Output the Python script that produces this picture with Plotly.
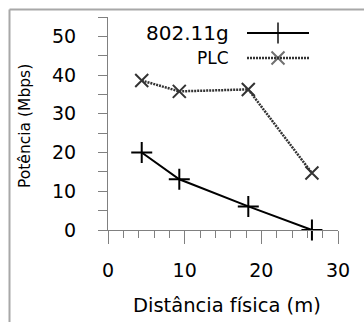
import plotly.graph_objects as go

# Data
dist_wifi = [4.4, 9.3, 18.3, 26.6]
rate_wifi = [20.0, 13.1, 6.1, 0.0]
dist_plc = [4.4, 9.3, 18.3, 26.6]
rate_plc = [38.6, 35.8, 36.3, 14.7]
series_names = ["802.11g", "PLC"]
x_title = "Distância física (m)"
y_title = "Potência (Mbps)"

W, H = 364, 322
L, R, T, B = 108, 26, 17, 92
pw, ph = W - L - R, H - T - B

def px(x):
    return (x - L) / pw

def py(y):
    return (H - B - y) / ph

fig = go.Figure()
fig.add_trace(go.Scatter(
    x=dist_wifi, y=rate_wifi, mode="lines+markers", name=series_names[0],
    line=dict(color="black", width=2),
    marker=dict(symbol="cross-thin-open", size=15, line=dict(color="black", width=2)),
    cliponaxis=False, showlegend=False))
fig.add_trace(go.Scatter(
    x=dist_plc, y=rate_plc, mode="lines+markers", name=series_names[1],
    line=dict(color="#333333", width=2.5, dash="2px,1px"),
    marker=dict(symbol="x-thin-open", size=13, line=dict(color="black", width=2)),
    cliponaxis=False, showlegend=False))

# Legend samples (drawn manually: text on the left, sample on the right)
leg_y = [py(33), py(58)]
styles = [
    (dict(color="black", width=2), "cross-thin-open", 15),
    (dict(color="#333333", width=2.5, dash="2px,1px"), "x-thin-open", 13),
]
for i, (ln, sym, sz) in enumerate(styles):
    fig.add_trace(go.Scatter(
        x=[px(247), px(278), px(309)], y=[leg_y[i]] * 3, mode="lines+markers",
        xaxis="x2", yaxis="y2", line=ln,
        marker=dict(symbol=sym, size=[0, sz, 0], line=dict(color="black", width=2)),
        cliponaxis=False, showlegend=False, hoverinfo="skip"))
    fig.add_annotation(x=px(231), y=leg_y[i], xref="paper", yref="paper",
                       text=series_names[i], showarrow=False, xanchor="right",
                       yanchor="middle",
                       font=dict(family="DejaVu Sans", size=20 if i == 0 else 17, color="black"))

axis_common = dict(showgrid=False, zeroline=False, showline=True, linecolor="#808080",
                   linewidth=1, ticks="outside", tickcolor="#808080", tickwidth=1,
                   tickfont=dict(family="DejaVu Sans", size=19, color="black"))
fig.update_layout(
    width=W, height=H, margin=dict(l=L, r=R, t=T, b=B),
    paper_bgcolor="white", plot_bgcolor="white",
    xaxis=dict(range=[0, 30], dtick=10, tick0=0, ticklen=13, ticklabelstandoff=10,
               minor=dict(dtick=2, tick0=0, ticklen=7, ticks="outside", tickcolor="#808080"),
               **axis_common),
    yaxis=dict(range=[0, 55], dtick=10, tick0=0, ticklen=9, ticklabelstandoff=18,
               minor=dict(dtick=5, tick0=0, ticklen=9, ticks="outside", tickcolor="#808080"),
               **axis_common),
    xaxis2=dict(overlaying="x", range=[0, 1], visible=False),
    yaxis2=dict(overlaying="y", range=[0, 1], visible=False),
    showlegend=False,
)

# Axis titles
fig.add_annotation(x=px(227), y=py(305), xref="paper", yref="paper", text=x_title,
                   showarrow=False, xanchor="center", yanchor="middle",
                   font=dict(family="DejaVu Sans", size=19.5, color="black"))
fig.add_annotation(x=px(25), y=py(126), xref="paper", yref="paper", text=y_title,
                   showarrow=False, xanchor="center", yanchor="middle", textangle=-90,
                   font=dict(family="DejaVu Sans", size=15.5, color="black"))

# Outer gray frame
fig.add_shape(type="line", xref="paper", yref="paper", x0=px(9.5), x1=px(9.5),
              y0=py(9.5), y1=py(H + 5), line=dict(color="#a8a8a8", width=2))
fig.add_shape(type="line", xref="paper", yref="paper", x0=px(9.5), x1=px(W + 5),
              y0=py(9.5), y1=py(9.5), line=dict(color="#a8a8a8", width=2))

fig.write_html("out.html")
